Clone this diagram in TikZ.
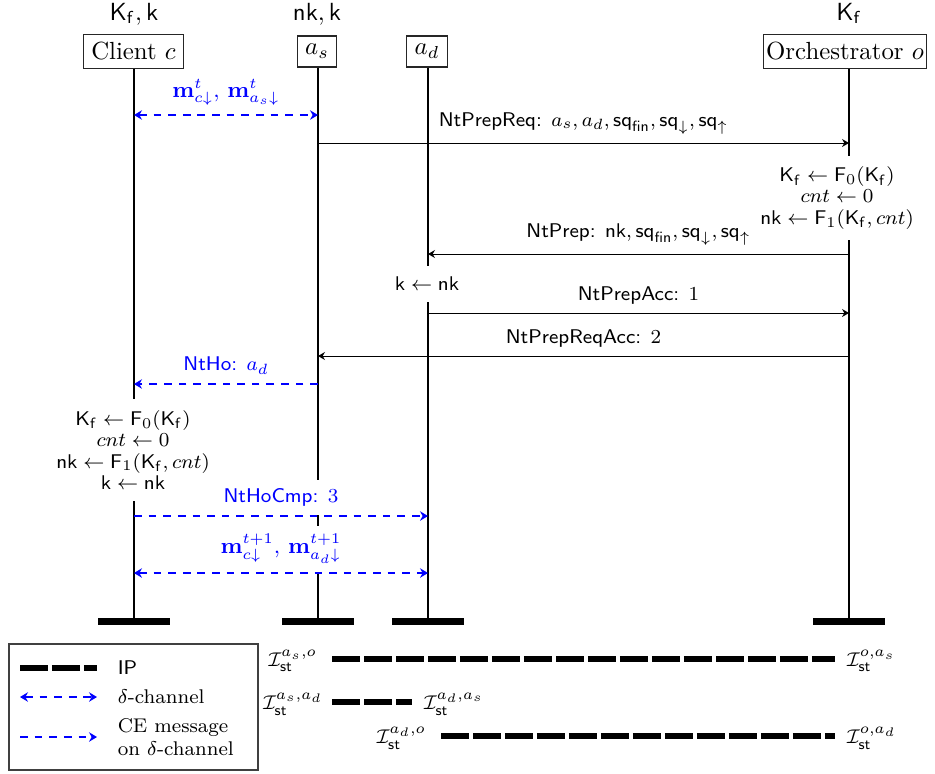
\documentclass[tikz,border=0pt]{standalone}
\usetikzlibrary{arrows.meta,calc}
\begin{document}
\begin{tikzpicture}[x=0.4032pt,y=-0.4032pt,
  actor/.style={draw=black!85, line width=0.5pt, inner ysep=3.33pt, inner xsep=3.2pt, font=\normalsize},
  toplab/.style={font=\normalsize, anchor=base, inner sep=0pt},
  lifeline/.style={line width=0.8pt},
  endbar/.style={line width=2.8pt},
  tipk/.tip={Stealth[length=2.8pt,width=3.2pt]},
  tipb/.tip={Stealth[length=3.2pt,width=3.8pt]},
  msg/.style={line width=0.4pt, -tipk},
  cemsg/.style={blue, line width=1.1pt, dash pattern=on 3.1pt off 2.8pt, -tipb},
  dchan/.style={blue, line width=1.1pt, dash pattern=on 3.1pt off 2.8pt, tipb-tipb},
  lab/.style={font=\footnotesize, fill=white, above, inner sep=3.33pt},
  blab/.style={lab, text=blue},
  mlab/.style={blab, font=\small},
  comp/.style={fill=white, align=center, font=\fontsize{8}{8.6}\selectfont, inner xsep=2pt, inner ysep=4.5pt},
  ipline/.style={line width=2.4pt, dash pattern=on 11.3pt off 1.6pt},
  legtext/.style={font=\footnotesize, align=left, anchor=west},
  istlab/.style={font=\footnotesize, inner sep=1pt}
]
\useasboundingbox (0,0) rectangle (935,773);

% actors
\node[actor] (c)  at (133.5,51.5) {Client $c$};
\node[actor] (as) at (317,51.5) {$a_s$};
\node[actor] (ad) at (427,51.5) {$a_d$};
\node[actor, inner xsep=1.2pt] (o) at (845,51.5) {Orchestrator $o$};

\node[toplab] (ctop)  at (134,20) {$\mathsf{K_f},\mathsf{k}$};
\node[toplab] (astop) at (317,20) {$\mathsf{nk},\mathsf{k}$};
\node[toplab] (otop)  at (849,20) {$\mathsf{K_f}$};

% lifeline ends
\coordinate (cE)  at (134,618);
\coordinate (asE) at (318,618);
\coordinate (adE) at (428,618);
\coordinate (oE)  at (849,618);

\draw[lifeline] (c.south -| cE) -- (cE);
\draw[lifeline] (as.south -| asE) -- (asE);
\draw[lifeline] (ad.south -| adE) -- (adE);
\draw[lifeline] (o.south -| oE) -- (oE);

\foreach \e in {cE,asE,adE,oE}{
  \draw[endbar] ($(\e)+(-36,3.5)$) -- ($(\e)+(36,3.5)$);
}

% message levels
\coordinate (y1) at (0,115);
\coordinate (y2) at (0,143);
\coordinate (y3) at (0,254);
\coordinate (y4) at (0,313);
\coordinate (y5) at (0,356);
\coordinate (y6) at (0,384);
\coordinate (y7) at (0,516);
\coordinate (y8) at (0,573);

% computations
\node[comp] (ocomp) at (837,198) {$\mathsf{K_f}\leftarrow\mathsf{F}_0(\mathsf{K_f})$\\$cnt\leftarrow 0$\\$\mathsf{nk}\leftarrow\mathsf{F}_1(\mathsf{K_f},cnt)$};
\node[comp] (adcomp) at (427,284) {$\mathsf{k}\leftarrow\mathsf{nk}$};
\node[comp] (ccomp) at (133,450) {$\mathsf{K_f}\leftarrow\mathsf{F}_0(\mathsf{K_f})$\\$cnt\leftarrow 0$\\$\mathsf{nk}\leftarrow\mathsf{F}_1(\mathsf{K_f},cnt)$\\$\mathsf{k}\leftarrow\mathsf{nk}$};

% messages
\draw[dchan] (cE |- y1) -- node[mlab] {$\mathbf{m}^t_{c\downarrow},\,\mathbf{m}^t_{a_s\downarrow}$} (asE |- y1);
\draw[msg] (asE |- y2) -- node[lab] {\textsf{NtPrepReq:} $a_s,a_d,\mathsf{sq}_{\mathsf{fin}},\mathsf{sq}_{\downarrow},\mathsf{sq}_{\uparrow}$} (oE |- y2);
\draw[msg] (oE |- y3) -- node[lab] {\textsf{NtPrep:} $\mathsf{nk},\mathsf{sq}_{\mathsf{fin}},\mathsf{sq}_{\downarrow},\mathsf{sq}_{\uparrow}$} (adE |- y3);
\draw[msg] (adE |- y4) -- node[lab] {\textsf{NtPrepAcc:} $1$} (oE |- y4);
\draw[msg] (oE |- y5) -- node[lab] {\textsf{NtPrepReqAcc:} $2$} (asE |- y5);
\draw[cemsg] (asE |- y6) -- node[blab] {\textsf{NtHo:} $a_d$} (cE |- y6);
\draw[cemsg] (cE |- y7) -- node[blab] {\textsf{NtHoCmp:} $3$} (adE |- y7);
\draw[dchan] (cE |- y8) -- node[mlab] {$\mathbf{m}^{t+1}_{c\downarrow},\,\mathbf{m}^{t+1}_{a_d\downarrow}$} (adE |- y8);

% legend
\coordinate (lgA) at (9,644);
\coordinate (lgB) at (258,770);
\draw[draw=black!75, line width=0.5pt] (lgA) rectangle (lgB);
\coordinate (l1a) at (20,668); \coordinate (l1b) at (97,668);
\coordinate (l2a) at (20,697); \coordinate (l2b) at (97,697);
\coordinate (l3a) at (20,737); \coordinate (l3b) at (97,737);
\draw[ipline] (l1a) -- (l1b);
\draw[dchan] (l2a) -- (l2b);
\draw[cemsg] (l3a) -- (l3b);
\node[legtext] (t1) at (109,668) {\textsf{IP}};
\node[legtext] (t2) at (109,697) {$\delta$-channel};
\node[legtext] (t3) at (109,737) {CE message\\on $\delta$-channel};

% IP lines
\coordinate (p1a) at (332,659); \coordinate (p1b) at (835,659);
\coordinate (p2a) at (332,702); \coordinate (p2b) at (412,702);
\coordinate (p3a) at (441,736); \coordinate (p3b) at (835,736);
\draw[ipline] (p1a) -- (p1b);
\draw[ipline] (p2a) -- (p2b);
\draw[ipline] (p3a) -- (p3b);
\node[istlab, anchor=east] (i1a) at ($(p1a)+(-12,2)$) {$\mathcal{I}_{\mathsf{st}}^{a_s,o}$};
\node[istlab, anchor=west] (i1b) at ($(p1b)+(9,2)$) {$\mathcal{I}_{\mathsf{st}}^{o,a_s}$};
\node[istlab, anchor=east] (i2a) at ($(p2a)+(-6,2)$) {$\mathcal{I}_{\mathsf{st}}^{a_s,a_d}$};
\node[istlab, anchor=west] (i2b) at ($(p2b)+(9,2)$) {$\mathcal{I}_{\mathsf{st}}^{a_d,a_s}$};
\node[istlab, anchor=east] (i3a) at ($(p3a)+(-12,2)$) {$\mathcal{I}_{\mathsf{st}}^{a_d,o}$};
\node[istlab, anchor=west] (i3b) at ($(p3b)+(9,2)$) {$\mathcal{I}_{\mathsf{st}}^{o,a_d}$};
\end{tikzpicture}
\end{document}
